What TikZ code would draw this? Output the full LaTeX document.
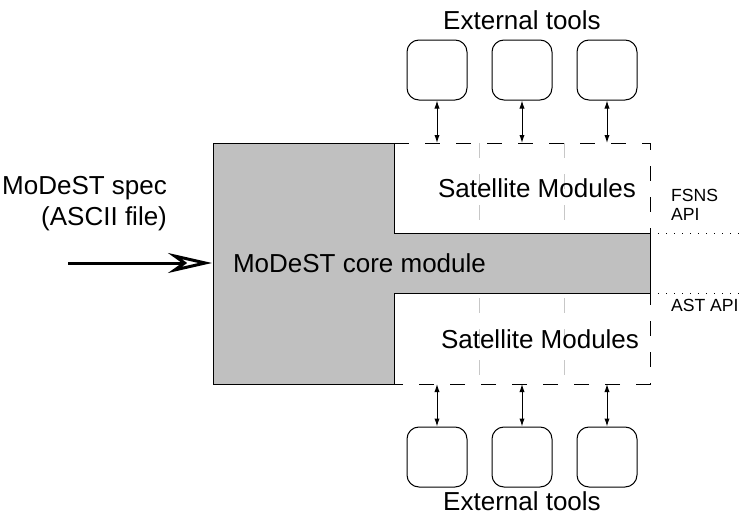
\documentclass[tikz,border=0pt]{standalone}
\usepackage{fontspec}
\setmainfont{Liberation Sans}
\usetikzlibrary{arrows.meta,calc,positioning}
\definecolor{corefill}{RGB}{192,192,192}
\tikzset{tool/.style={draw, rounded corners=6pt, minimum size=30pt, inner sep=0pt, line width=0.5pt}}
\tikzset{link/.style={{Latex[length=4pt,width=2.6pt]}-{Latex[length=4pt,width=2.6pt]}, line width=0.5pt}}
\tikzset{satbox/.style={line width=0.5pt, dash pattern=on 7.5pt off 8pt}}
\tikzset{api/.style={line width=0.5pt, dash pattern=on 0.5pt off 3.5pt}}

\begin{document}
\begin{tikzpicture}[x=0.5pt,y=-0.5pt,font=\fontsize{13}{15.5}\selectfont]
\useasboundingbox (0,0) rectangle (741,514);
% satellite modules area
\draw[black!22, satbox] (479,143) -- (479,384) (564,143) -- (564,384);
\draw[satbox] (394,143) -- (650,143) -- (650,384) -- (394,384);
% core module
\draw[fill=corefill, line width=0.5pt] (213,143) -- (394,143) -- (394,233) -- (650,233)
  -- (650,293) -- (394,293) -- (394,384) -- (213,384) -- cycle;
\node (core) at (226,263)[anchor=west] {MoDeST core module};
\node (sattop) at (537,188) {Satellite Modules};
\node (satbot) at (540,339) {Satellite Modules};
% API levels
\coordinate (fsns1) at (650,233);
\coordinate (fsns2) at (741,233);
\coordinate (ast1) at (650,293);
\coordinate (ast2) at (741,293);
\draw[api] (fsns1) -- (fsns2);
\draw[api] (ast1) -- (ast2);
\node (fsns) at (664,205)[anchor=west,align=left,font=\fontsize{8.8}{9.5}\selectfont] {FSNS\\API};
\node (ast) at (664,305)[anchor=west,font=\fontsize{8.8}{9.5}\selectfont] {AST API};
% external tools
\foreach \x/\n in {437/1,522/2,607/3} {
  \node (tt\n) at (\x,70)[tool] {};
  \coordinate (st\n) at (\x,143);
  \draw[link] (tt\n) -- (st\n);
  \node (tb\n) at (\x,457)[tool] {};
  \coordinate (sb\n) at (\x,384);
  \draw[link] (sb\n) -- (tb\n);
}
\node (exttop) at (522,20) {External tools};
\node (extbot) at (522,501) {External tools};
% input spec
\node (spec) at (174,204)[anchor=east,align=right] {MoDeST spec\\(ASCII file)};
\coordinate (in) at (68,263);
\coordinate (coreleft) at (212,263);
\draw[line width=1.5pt, -{Stealth[open,length=22pt,width=10pt,inset=7pt]}] (in) -- (coreleft);
\end{tikzpicture}
\end{document}
